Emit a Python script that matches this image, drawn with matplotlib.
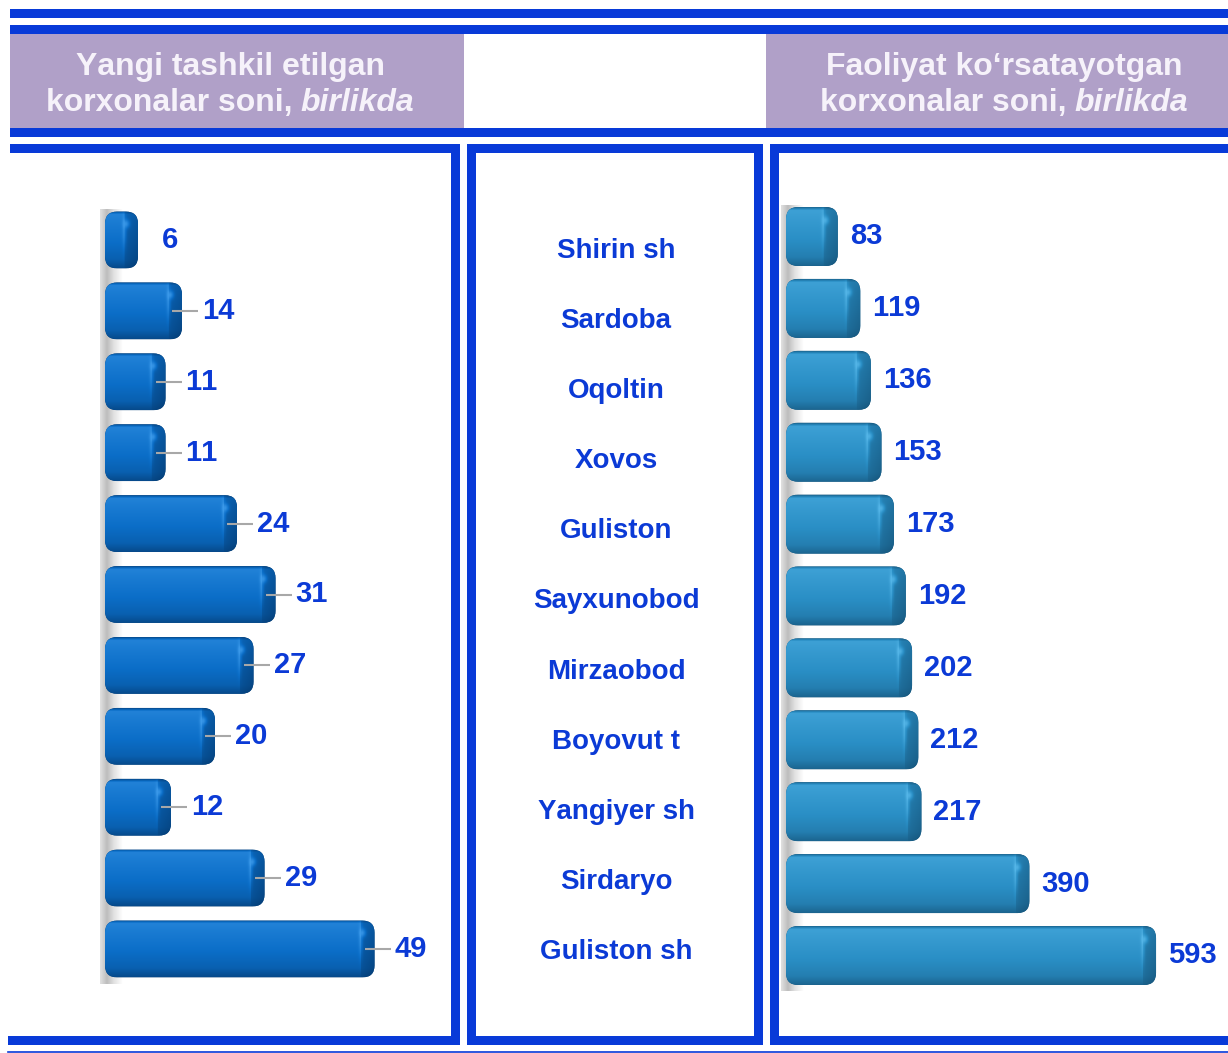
import numpy as np
import matplotlib
matplotlib.use("Agg")
import matplotlib.pyplot as plt
from matplotlib.patches import Rectangle, FancyBboxPatch
from matplotlib.colors import to_rgb

plt.rcParams['font.family'] = ['Liberation Sans', 'DejaVu Sans']
plt.rcParams['text.kerning_factor'] = 6

# Districts of Sirdaryo region, top to bottom
districts = ["Shirin sh", "Sardoba", "Oqoltin", "Xovos", "Guliston", "Sayxunobod",
             "Mirzaobod", "Boyovut t", "Yangiyer sh", "Sirdaryo", "Guliston sh"]
# newly created enterprises, units
new_firms = [6, 14, 11, 11, 24, 31, 27, 20, 12, 29, 49]
# operating enterprises, units
active_firms = [83, 119, 136, 153, 173, 192, 202, 212, 217, 390, 593]

left_title = ("Yangi tashkil etilgan", "korxonalar soni,", "birlikda")
right_title = ("Faoliyat ko\u2018rsatayotgan", "korxonalar soni,", "birlikda")

BLUE = '#083AD8'
TEXT_BLUE = '#0B3AD6'
HEAD_FILL = '#B0A0C8'

W, H = 1228, 1053
fig = plt.figure(figsize=(W / 100, H / 100), dpi=100)

# pixel-space canvas for frames and headers
deco = fig.add_axes([0, 0, 1, 1])
deco.set_xlim(0, W)
deco.set_ylim(H, 0)
deco.axis('off')


def box(x0, y0, x1, y1, color=BLUE):
    deco.add_patch(Rectangle((x0, y0), x1 - x0, y1 - y0, fc=color, ec='none'))


# double rules and header band
box(10, 9, W, 18)
box(10, 25, W, 34)
box(10, 34, 464, 128, HEAD_FILL)
box(766, 34, W, 128, HEAD_FILL)
box(10, 128, W, 137)

# left panel frame
box(10, 144, 460, 153)
box(451, 144, 460, 1045)
box(8, 1036, 460, 1045)
# middle panel frame
box(467, 144, 763, 153)
box(467, 144, 476, 1045)
box(754, 144, 763, 1045)
box(467, 1036, 763, 1045)
# right panel frame
box(770, 144, W, 153)
box(770, 144, 779, 1045)
box(770, 1036, W, 1045)
deco.plot([8, W], [1052, 1052], color=BLUE, lw=1.2)


def header(cx, title):
    first, plain, ital = title
    kw = dict(color='#F6F2FA', fontsize=23, fontweight='bold', va='center')
    deco.text(cx, 67, first, ha='center', **kw)
    t1 = deco.text(0, 103, plain, ha='left', **kw)
    t2 = deco.text(0, 103, ital, ha='left', style='italic', **kw)
    r = fig.canvas.get_renderer()
    w1 = t1.get_window_extent(r).width
    w2 = t2.get_window_extent(r).width
    gap = 8.5
    x0 = cx - (w1 + gap + w2) / 2
    t1.set_x(x0)
    t2.set_x(x0 + w1 + gap)


header(230, left_title)
header(1004, right_title)

# district names in the middle column
for name, y in zip(districts, np.linspace(251, 952, len(districts))):
    deco.text(616, y, name, ha='center', va='center', fontsize=20,
              fontweight='bold', color=TEXT_BLUE)


def bar_axes(x_zero, px_x, x_left, x_right, y_first, y_last, n):
    step = (y_last - y_first) / (n - 1)
    top = y_first - step / 2
    bottom = y_last + step / 2
    ax = fig.add_axes([x_left / W, 1 - bottom / H, (x_right - x_left) / W, (bottom - top) / H])
    ax.axis('off')
    ax.patch.set_alpha(0)
    return ax, step


def shade(base, dark, light, ncols, nrows, cap_px):
    base, dark, light = (np.array(to_rgb(c)) for c in (base, dark, light))
    t = np.linspace(0, 1, nrows)[:, None]
    x = np.arange(ncols)[None, :] + 0.5
    ones = np.ones((nrows, ncols))
    k = np.interp(t, [0, .05, .2, .55, .85, 1], [-.6, .45, .3, 0, -.3, -.75]) * ones
    cap0 = ncols - cap_px
    u = np.clip((x - cap0) / cap_px, 0, 1) * ones
    in_cap = (x >= cap0) * ones > 0
    k = np.where(in_cap, 0.5 * k - 0.45 - 0.25 * u, k)
    # light seam where the end cap turns, plus a glint on its upper corner
    seam = np.exp(-((x - cap0) / 2.0) ** 2) * np.exp(-((t - .35) / .3) ** 2)
    glint = np.exp(-(((x - cap0 - 2) / 3.0) ** 2 + ((t - .22) * nrows / 4.0) ** 2))
    k = np.clip(k + 0.6 * seam + 0.9 * glint, -1, 1)[..., None]
    img = np.where(k >= 0, base + (light - base) * k, base + (base - dark) * k)
    return np.clip(img, 0, 1)


def wall(ax, px_x, n):
    # grey back wall behind the bars
    g = np.interp(np.linspace(0, 1, 40), [0, .3, .6, 1], [.88, .74, .88, 1.0])
    img = np.repeat(g[None, :, None], 3, axis=2)
    ax.imshow(img, extent=(-5 / px_x, 18 / px_x, n - 0.45, -0.42), aspect='auto',
              interpolation='bilinear', zorder=1)


def draw_bars(ax, values, px_x, px_y, colors, height):
    base, dark, light = colors
    r = 12 / px_x
    for i, v in enumerate(values):
        y0 = i - height / 2
        body = FancyBboxPatch((0, y0), v, height, boxstyle=f"round,pad=0,rounding_size={r}",
                              mutation_aspect=px_x / px_y, fc=dark, ec='none', zorder=3)
        ax.add_patch(body)
        img = shade(base, dark, light, max(int(v * px_x), 2), int(height * px_y), 14)
        im = ax.imshow(img, extent=(0, v, y0 + height, y0), aspect='auto',
                       interpolation='bilinear', zorder=4)
        im.set_clip_path(body)


label_kw = dict(fontsize=21, fontweight='bold', color=TEXT_BLUE, va='center', ha='left')

# left chart: newly created enterprises
px_l = 5.5
axl, step_l = bar_axes(105, px_l, 95, 450, 240, 949, len(new_firms))
wall(axl, px_l, len(new_firms))
draw_bars(axl, new_firms, px_l, step_l, ('#0B6EC8', '#053F78', '#3C9AEA'), 0.8)
for i, v in enumerate(new_firms):
    if i:
        axl.plot([v - 10 / px_l, v + 16 / px_l], [i, i], color='#A8A8A8', lw=1.5,
                 zorder=5, solid_capstyle='butt')
        axl.text(v + 20 / px_l, i, str(v), **label_kw)
    else:
        axl.text(v + 24 / px_l, i, str(v), **label_kw)
axl.set_xlim((95 - 105) / px_l, (450 - 105) / px_l)
axl.set_ylim(len(new_firms) - 0.5, -0.5)

# right chart: operating enterprises
px_r = 0.624
axr, step_r = bar_axes(786, px_r, 780, W, 236.5, 955.5, len(active_firms))
wall(axr, px_r, len(active_firms))
draw_bars(axr, active_firms, px_r, step_r, ('#2A8FC6', '#17587F', '#55B6E8'), 0.82)
for i, v in enumerate(active_firms):
    axr.text(v + 12 / px_r, i, str(v), **label_kw)
axr.set_xlim((780 - 786) / px_r, (W - 786) / px_r)
axr.set_ylim(len(active_firms) - 0.5, -0.5)

fig.savefig("out.png", dpi=100)
